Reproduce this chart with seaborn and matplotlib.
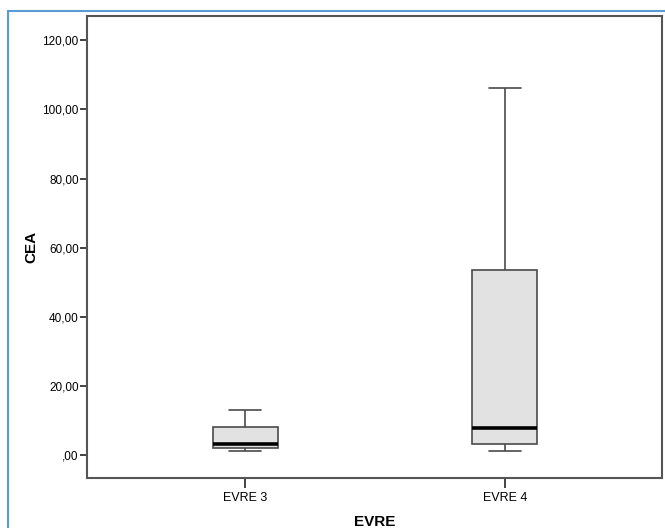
import matplotlib
matplotlib.use("Agg")
import matplotlib.pyplot as plt
import seaborn as sns
import pandas as pd
from matplotlib.patches import Rectangle
from matplotlib.ticker import FuncFormatter

# Data (five-number summaries)
categories = ["EVRE 3", "EVRE 4"]
evre3_values = [1.1, 2.0, 3.2, 8.1, 13.2]
evre4_values = [1.2, 3.2, 7.8, 53.5, 106.1]
y_ticks = [0, 20, 40, 60, 80, 100, 120]

df = pd.DataFrame({
    "EVRE": [categories[0]] * len(evre3_values) + [categories[1]] * len(evre4_values),
    "CEA": evre3_values + evre4_values,
})

sns.set_style("white")
plt.rcParams["font.family"] = ["Liberation Sans", "DejaVu Sans"]
plt.rcParams["text.color"] = "black"
plt.rcParams["axes.labelcolor"] = "black"
plt.rcParams["xtick.color"] = "black"
plt.rcParams["ytick.color"] = "black"

fig = plt.figure(figsize=(6.65, 5.28), dpi=100)
W, H = 665, 528
ax = fig.add_axes([87 / W, 1 - 478 / H, (662 - 87) / W, (478 - 16) / H])

edge = "#4a4a4a"
sns.boxplot(
    data=df, x="EVRE", y="CEA", order=categories, ax=ax,
    width=0.25, whis=(0, 100), color="#e2e2e2", linecolor=edge, linewidth=1.2,
    medianprops=dict(color="black", linewidth=2.6),
    boxprops=dict(facecolor="#e2e2e2", edgecolor=edge),
    showfliers=False,
)

ax.set_xlim(-0.608, 1.604)
ax.set_ylim(-6.6, 127)
ax.set_yticks(y_ticks)


def fmt(v, pos):
    s = f"{v:.2f}".replace(".", ",")
    if s.startswith("0"):
        s = s[1:]
    return s


ax.yaxis.set_major_formatter(FuncFormatter(fmt))
ax.tick_params(axis="y", direction="out", length=5, width=1.2, color="#222222",
               labelcolor="black", labelsize=8.5, pad=1, left=True)
ax.tick_params(axis="x", direction="out", length=7, width=1.2, color="#222222",
               labelcolor="black", labelsize=9, pad=3, bottom=True)
for s in ax.spines.values():
    s.set_visible(True)
    s.set_color("#555555")
    s.set_linewidth(1.5)

ax.set_ylabel("CEA", fontsize=11, fontweight="bold", labelpad=3, color="black")
ax.set_xlabel("EVRE", fontsize=11, fontweight="bold", labelpad=8, color="black")

# outer blue frame
fig.patches.append(Rectangle((8 / W, -0.05), 1.2, 1 - 11 / H + 0.05,
                             transform=fig.transFigure, fill=False,
                             edgecolor="#5b9bd5", linewidth=1.5))

fig.savefig("out.png", dpi=100)
